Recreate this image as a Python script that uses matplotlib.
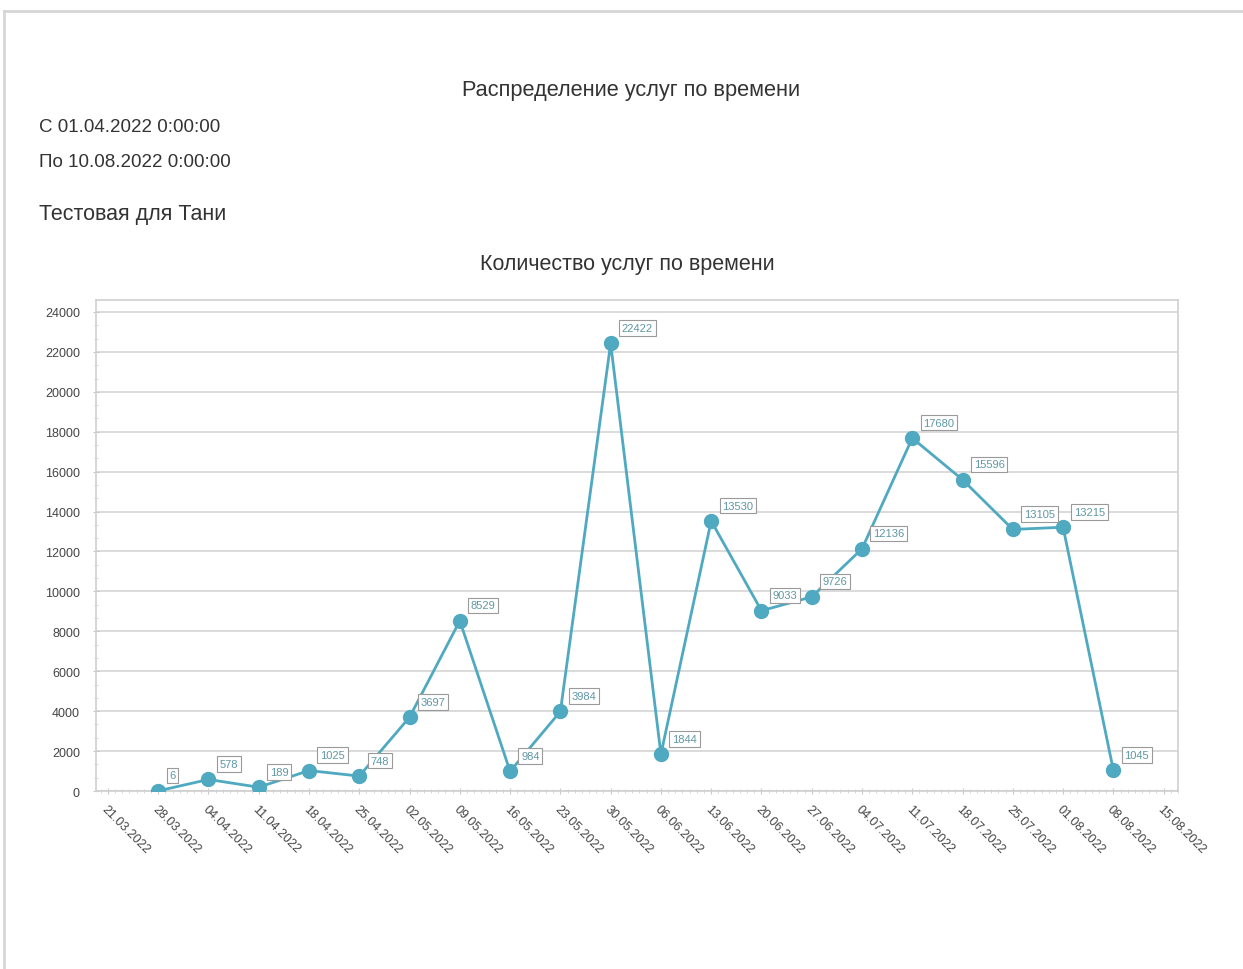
import pandas as pd
import matplotlib.pyplot as plt
import matplotlib.dates as mdates
from matplotlib.ticker import MultipleLocator
from matplotlib.lines import Line2D

plt.rcParams['font.family'] = ['Liberation Sans', 'DejaVu Sans']

# Data
dates = ['28.03.2022', '04.04.2022', '11.04.2022', '18.04.2022', '25.04.2022',
         '02.05.2022', '09.05.2022', '16.05.2022', '23.05.2022', '30.05.2022',
         '06.06.2022', '13.06.2022', '20.06.2022', '27.06.2022', '04.07.2022',
         '11.07.2022', '18.07.2022', '25.07.2022', '01.08.2022', '08.08.2022']
counts = [6, 578, 189, 1025, 748, 3697, 8529, 984, 3984, 22422,
          1844, 13530, 9033, 9726, 12136, 17680, 15596, 13105, 13215, 1045]

title = 'Распределение услуг по времени'
period_from = 'С 01.04.2022 0:00:00'
period_to = 'По 10.08.2022 0:00:00'
report_name = 'Тестовая для Тани'
chart_title = 'Количество услуг по времени'

x = pd.to_datetime(dates, format='%d.%m.%Y')

fig = plt.figure(figsize=(12.43, 9.70), dpi=100)

# page border
fig.add_artist(Line2D([0.0035, 1.0], [0.9876, 0.9876], transform=fig.transFigure,
                      color='#d6d6d6', lw=2))
fig.add_artist(Line2D([0.0035, 0.0035], [0.0, 0.9876], transform=fig.transFigure,
                      color='#d6d6d6', lw=2))

# header texts
fig.text(0.508, 0.907, title, ha='center', va='center', fontsize=15.7, color='#333333')
fig.text(0.031, 0.869, period_from, ha='left', va='center', fontsize=13.5, color='#333333')
fig.text(0.031, 0.832, period_to, ha='left', va='center', fontsize=13.5, color='#333333')
fig.text(0.031, 0.779, report_name, ha='left', va='center', fontsize=15.5, color='#333333')
fig.text(0.505, 0.727, chart_title, ha='center', va='center', fontsize=15.5, color='#333333')

ax = fig.add_axes([0.0772, 0.1835, 0.8705, 0.5062])

line_color = '#4fa9c0'
ax.plot(x, counts, color=line_color, lw=2, marker='o', markersize=10,
        markerfacecolor=line_color, markeredgecolor=line_color, zorder=3)

# data labels
for xi, yi in zip(x, counts):
    ax.annotate(str(yi), (xi, yi), xytext=(8, 7.5), textcoords='offset points',
                ha='left', va='bottom', fontsize=8, color='#5e97a4',
                bbox=dict(boxstyle='square,pad=0.25', fc='white', ec='#9a9a9a', lw=0.8),
                zorder=4)

ax.set_xlim(pd.Timestamp('2022-03-19 08:00'), pd.Timestamp('2022-08-17'))
ax.set_ylim(0, 24600)

ax.xaxis.set_major_locator(mdates.WeekdayLocator(byweekday=mdates.MO))
ax.xaxis.set_minor_locator(mdates.DayLocator())
ax.xaxis.set_major_formatter(mdates.DateFormatter('%d.%m.%Y'))
ax.yaxis.set_major_locator(MultipleLocator(2000))
ax.yaxis.set_minor_locator(MultipleLocator(2000 / 3))

for lbl in ax.get_xticklabels():
    lbl.set_rotation(-45)
    lbl.set_ha('left')
    lbl.set_va('top')
    lbl.set_rotation_mode('anchor')

ax.tick_params(axis='both', which='major', labelsize=9, labelcolor='#444444',
               color='#c8c8c8', length=5, direction='inout')
ax.tick_params(axis='both', which='minor', color='#d0d0d0', length=3, direction='inout')
ax.tick_params(axis='x', which='major', pad=6)
ax.tick_params(axis='y', which='major', pad=9)

ax.grid(axis='y', which='major', color='#d4d4d4', lw=1.2)
ax.set_axisbelow(True)
for s in ax.spines.values():
    s.set_color('#d0d0d0')
    s.set_linewidth(1.2)

plt.savefig('out.png', dpi=100)
